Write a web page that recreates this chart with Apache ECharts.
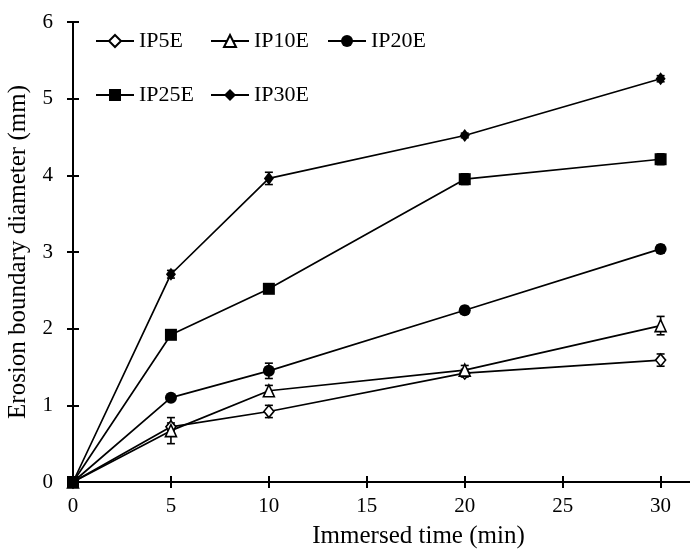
<!DOCTYPE html>
<html>
<head>
<meta charset="utf-8">
<script src="https://cdn.jsdelivr.net/npm/echarts@6/dist/echarts.min.js"></script>
<style>
html,body{margin:0;padding:0;background:#fff;}
#main{width:690px;height:552px;}
</style>
</head>
<body>
<div id="main"></div>
<script>
// immersed time (min)
var times = [0, 5, 10, 20, 30];
var xTicks = [0, 5, 10, 15, 20, 25, 30];

// erosion boundary diameter (mm) and error bars
var ip5e = [0, 0.72, 0.92, 1.42, 1.59];
var ip5eErr = [0, 0.05, 0.08, 0.05, 0.08];
var ip10e = [0, 0.67, 1.19, 1.46, 2.04];
var ip10eErr = [0, 0.17, 0.07, 0.06, 0.12];
var ip20e = [0, 1.10, 1.45, 2.24, 3.04];
var ip20eErr = [0, 0.03, 0.1, 0.05, 0.05];
var ip25e = [0, 1.92, 2.52, 3.95, 4.21];
var ip25eErr = [0, 0.03, 0.03, 0.07, 0.07];
var ip30e = [0, 2.71, 3.96, 4.52, 5.26];
var ip30eErr = [0, 0.05, 0.08, 0.03, 0.04];

var font = '"Liberation Serif", "Times New Roman", serif';

function pts(vals) {
    return times.map(function (t, i) { return [t, vals[i]]; });
}
function errPts(vals, errs) {
    var out = [];
    times.forEach(function (t, i) {
        if (errs[i] > 0) out.push([t, vals[i] - errs[i], vals[i] + errs[i]]);
    });
    return out;
}
function errRender(params, api) {
    var x = api.value(0);
    var lo = api.coord([x, api.value(1)]);
    var hi = api.coord([x, api.value(2)]);
    var w = 4;
    var st = {stroke: '#000', lineWidth: 1.6};
    return {
        type: 'group',
        children: [
            {type: 'line', shape: {x1: lo[0], y1: lo[1], x2: hi[0], y2: hi[1]}, style: st},
            {type: 'line', shape: {x1: lo[0] - w, y1: lo[1], x2: lo[0] + w, y2: lo[1]}, style: st},
            {type: 'line', shape: {x1: hi[0] - w, y1: hi[1], x2: hi[0] + w, y2: hi[1]}, style: st}
        ]
    };
}
function lineSeries(name, vals, symbol, size, open) {
    return {
        name: name,
        type: 'line',
        data: pts(vals),
        symbol: symbol,
        symbolSize: size,
        showAllSymbol: true,
        lineStyle: {color: '#000', width: 1.7},
        itemStyle: open ? {color: '#fff', borderColor: '#000', borderWidth: 1.6}
                        : {color: '#000', borderColor: '#000', borderWidth: 0}
    };
}
function errSeries(vals, errs) {
    return {
        type: 'custom',
        renderItem: errRender,
        encode: {x: 0, y: [1, 2]},
        data: errPts(vals, errs),
        z: 3
    };
}
function legendAt(name, left, top) {
    return {
        data: [name],
        left: left,
        top: top,
        itemWidth: 38,
        itemHeight: 15,
        itemGap: 5,
        selectedMode: false,
        textStyle: {fontFamily: font, fontSize: 22, color: '#000'}
    };
}

var myChart = echarts.init(document.getElementById('main'));
var option = {
    animation: false,
    backgroundColor: '#fff',
    grid: {left: 73, top: 22, width: 617, height: 460, containLabel: false, outerBoundsMode: 'none'},
    legend: [
        legendAt('IP5E', 90, 25),
        legendAt('IP10E', 205, 25),
        legendAt('IP20E', 322, 25),
        legendAt('IP25E', 90, 79),
        legendAt('IP30E', 205, 79)
    ],
    xAxis: [{
        type: 'value',
        min: 0,
        max: 31.5,
        name: 'Immersed time (min)',
        nameLocation: 'middle',
        nameGap: 42,
        nameTextStyle: {fontFamily: font, fontSize: 25, color: '#000', padding: [0, 0, 0, 74]},
        axisLine: {lineStyle: {color: '#000', width: 2}},
        axisTick: {show: true, inside: false, length: 6, customValues: xTicks, lineStyle: {color: '#000', width: 2}},
        axisLabel: {customValues: xTicks, margin: 14, fontFamily: font, fontSize: 21, color: '#000'},
        splitLine: {show: false}
    }, {
        type: 'value',
        position: 'bottom',
        min: 0,
        max: 31.5,
        axisLine: {show: false},
        axisTick: {show: true, inside: true, length: 6, customValues: xTicks, lineStyle: {color: '#000', width: 2}},
        axisLabel: {show: false},
        splitLine: {show: false}
    }],
    yAxis: [{
        type: 'value',
        min: 0,
        max: 6,
        interval: 1,
        name: 'Erosion boundary diameter (mm)',
        nameLocation: 'middle',
        nameGap: 42,
        nameTextStyle: {fontFamily: font, fontSize: 25, color: '#000'},
        axisLine: {show: true, lineStyle: {color: '#000', width: 2}},
        axisTick: {show: true, inside: false, length: 6, lineStyle: {color: '#000', width: 2}},
        axisLabel: {margin: 20, fontFamily: font, fontSize: 21, color: '#000'},
        splitLine: {show: false}
    }, {
        type: 'value',
        position: 'left',
        offset: 0,
        min: 0,
        max: 6,
        interval: 1,
        axisLine: {show: false},
        axisTick: {show: true, inside: true, length: 6, lineStyle: {color: '#000', width: 2}},
        axisLabel: {show: false},
        splitLine: {show: false}
    }],
    series: [
        lineSeries('IP5E', ip5e, 'diamond', [10, 12], true),
        lineSeries('IP10E', ip10e, 'triangle', [11, 12], true),
        lineSeries('IP20E', ip20e, 'circle', 12, false),
        lineSeries('IP25E', ip25e, 'rect', 12, false),
        lineSeries('IP30E', ip30e, 'diamond', [10, 13], false),
        errSeries(ip5e, ip5eErr),
        errSeries(ip10e, ip10eErr),
        errSeries(ip20e, ip20eErr),
        errSeries(ip25e, ip25eErr),
        errSeries(ip30e, ip30eErr)
    ]
};
myChart.setOption(option);
</script>
</body>
</html>
